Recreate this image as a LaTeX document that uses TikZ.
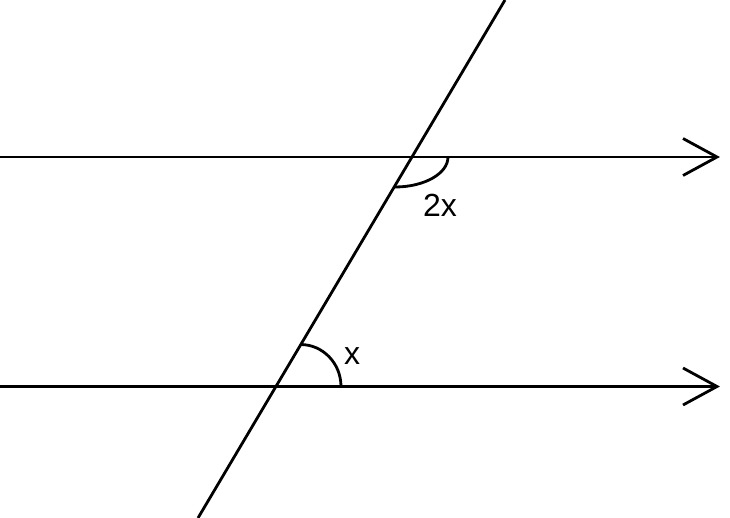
\documentclass[tikz,border=0pt]{standalone}
\usepackage{fontspec}
\setmainfont{Liberation Sans}
\begin{document}
\begin{tikzpicture}[x=1pt,y=-1pt,
  geo/.style={line width=2.8pt,line cap=butt,line join=miter},
  lbl/.style={inner sep=0pt,font=\fontsize{32}{32}\selectfont}]
\useasboundingbox (0,0) rectangle (730,518);
% named points
\coordinate (L1a) at (0,157);
\coordinate (L1b) at (717,157);
\coordinate (L2a) at (0,386.5);
\coordinate (L2b) at (717,386.5);
\coordinate (Ta) at (505,0);
\coordinate (Tb) at (198,518);
% parallel lines
\draw[geo] (L1a) -- (L1b);
\draw[geo] (L2a) -- (L2b);
% arrowheads
\draw[geo] (683,138.5) -- (L1b) -- (683,175.5);
\draw[geo] (683,368) -- (L2b) -- (683,405);
% transversal
\draw[geo] (Ta) -- (Tb);
% angle arcs
\draw[geo] (448,157) arc[start angle=0,end angle=90,x radius=53,y radius=30];
\draw[geo] (341,386.5) arc[start angle=0,end angle=-90,x radius=40.5,y radius=42];
% labels
\node[lbl] (l2x) at (440,205.5) {2x};
\node[lbl] (lx) at (352,356) {x};
\end{tikzpicture}
\end{document}
